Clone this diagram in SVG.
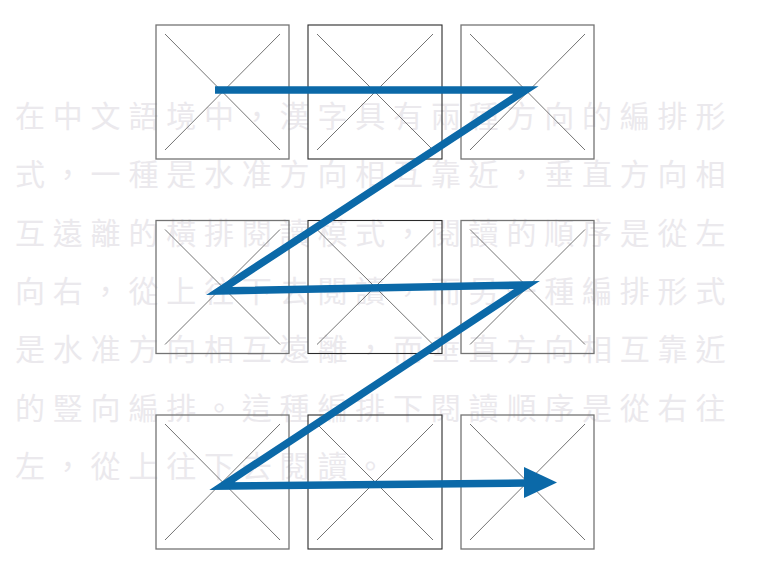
<svg xmlns="http://www.w3.org/2000/svg" width="759" height="566" viewBox="0 0 759 566">
<style>
.bg{font-family:"Noto Sans CJK TC","Noto Sans CJK SC",sans-serif;font-size:30px;letter-spacing:7.8px;fill:#ebe9ed}
.box{fill:none;stroke:#747474;stroke-width:1.3}
.box.dark{stroke:#2a2a2a;stroke-width:1.1}
.x{stroke:#747474;stroke-width:1}
.path{fill:none;stroke:#0b69a8;stroke-width:7.5;stroke-linejoin:miter;stroke-miterlimit:10}
</style>
<rect width="759" height="566" fill="#ffffff"/>
<g id="text">
<text class="bg" x="15" y="127">在中文語境中，漢字具有兩種方向的編排形</text>
<text class="bg" x="15" y="185.3">式，一種是水准方向相互靠近，垂直方向相</text>
<text class="bg" x="15" y="243.6">互遠離的橫排閱讀模式，閱讀的順序是從左</text>
<text class="bg" x="15" y="301.9">向右，從上往下去閱讀，而另一種編排形式</text>
<text class="bg" x="15" y="360.2">是水准方向相互遠離，而垂直方向相互靠近</text>
<text class="bg" x="15" y="418.5">的豎向編排。這種編排下閱讀順序是從右往</text>
<text class="bg" x="15" y="476.8">左，從上往下去閱讀。</text>
</g>
<g id="box-1-1"><rect class="box" x="156" y="25" width="133" height="134"/><path class="x" d="M165 34L280 150M280 34L165 150"/></g>
<g id="box-1-2"><rect class="box dark" x="308" y="25" width="134" height="134"/><path class="x" d="M317 34L433 150M433 34L317 150"/></g>
<g id="box-1-3"><rect class="box" x="461" y="25" width="133" height="134"/><path class="x" d="M470 34L585 150M585 34L470 150"/></g>
<g id="box-2-1"><rect class="box" x="156" y="220.5" width="133" height="133"/><path class="x" d="M165 229.5L280 344.5M280 229.5L165 344.5"/></g>
<g id="box-2-2"><rect class="box dark" x="308" y="220.5" width="134" height="133"/><path class="x" d="M317 229.5L433 344.5M433 229.5L317 344.5"/></g>
<g id="box-2-3"><rect class="box" x="461" y="220.5" width="133" height="133"/><path class="x" d="M470 229.5L585 344.5M585 229.5L470 344.5"/></g>
<g id="box-3-1"><rect class="box" x="156" y="415" width="133" height="134"/><path class="x" d="M165 424L280 540M280 424L165 540"/></g>
<g id="box-3-2"><rect class="box dark" x="308" y="415" width="134" height="134"/><path class="x" d="M317 424L433 540M433 424L317 540"/></g>
<g id="box-3-3"><rect class="box" x="461" y="415" width="133" height="134"/><path class="x" d="M470 424L585 540M585 424L470 540"/></g>
<g id="connectors">
<polyline class="path" points="215,90 526,90 219,291 527,285 222,486 526,483"/>
<polygon points="524,467 557,482.5 524,498" fill="#0b69a8"/>
</g>
</svg>
